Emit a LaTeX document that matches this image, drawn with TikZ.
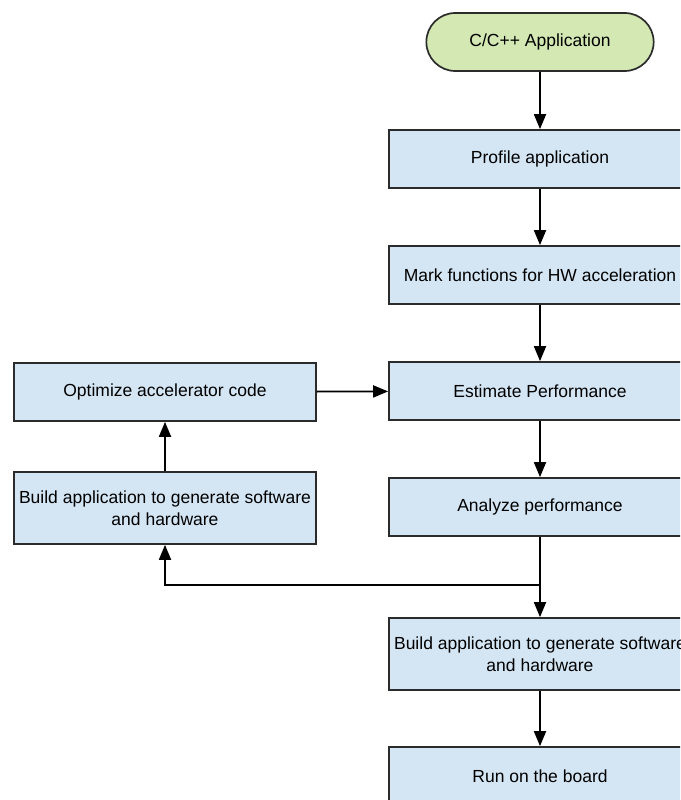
\documentclass[tikz,border=0pt]{standalone}
\usepackage{fontspec}
\setmainfont{Liberation Sans}
\usetikzlibrary{arrows.meta,positioning,shapes.misc}

\definecolor{boxfill}{HTML}{D4E6F4}
\definecolor{startfill}{HTML}{D3E8B3}
\definecolor{edge}{HTML}{2B2B2B}

\tikzset{
  stepbox/.style={draw=edge, line width=1.7pt, fill=boxfill, rectangle,
    minimum width=302pt, minimum height=58pt, align=center,
    font=\fontsize{17.5}{21.5}\selectfont, inner sep=0pt},
  tallbox/.style={stepbox, minimum height=72pt},
  terminal/.style={draw=edge, line width=1.7pt, fill=startfill,
    rounded rectangle, minimum width=234pt, minimum height=58pt,
    font=\fontsize{17.5}{21.5}\selectfont},
  flow/.style={draw=black, line width=1.8pt,
    -{Triangle[length=15pt,width=12pt]}},
}

\begin{document}
\begin{tikzpicture}[x=1pt,y=-1pt]
  \useasboundingbox (0,0) rectangle (680,800);
  \clip (0,0) rectangle (680,800);

  % main column
  \node[terminal] (app)     at (540,42)  {C/C++ Application};
  \node[stepbox]  (profile) at (540,159) {Profile application};
  \node[stepbox]  (mark)    at (540,275) {Mark functions for HW acceleration};
  \node[stepbox]  (est)     at (540,391) {Estimate Performance};
  \node[stepbox]  (ana)     at (540,507) {Analyze performance};
  \node[tallbox]  (buildr)  at (540,654) {Build application to generate software\\and hardware};
  \node[stepbox]  (run)     at (540,776) {Run on the board};

  % optimisation loop
  \node[stepbox]  (opt)     at (165,392) {Optimize accelerator code};
  \node[tallbox]  (buildl)  at (165,508) {Build application to generate software\\and hardware};

  \coordinate (split) at (540,585);

  \draw[flow] (app) -- (profile);
  \draw[flow] (profile) -- (mark);
  \draw[flow] (mark) -- (est);
  \draw[flow] (est) -- (ana);
  \draw[flow] (ana) -- (buildr);
  \draw[flow] (buildr) -- (run);
  \draw[flow] (split) -| (buildl);
  \draw[flow] (buildl) -- (opt);
  \draw[flow] (opt) -- (est);
\end{tikzpicture}
\end{document}
